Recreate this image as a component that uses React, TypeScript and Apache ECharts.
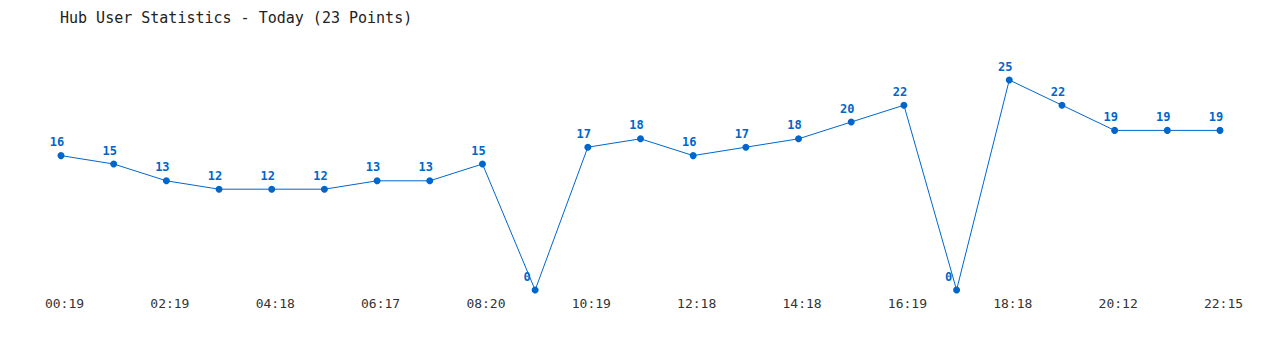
import React, { useEffect, useRef } from "react";
import * as echarts from "echarts";

const categories = [
  "00:19", "01:19", "02:19", "03:19", "04:18", "05:18", "06:17", "07:17",
  "08:20", "09:20", "10:19", "11:19", "12:18", "13:18", "14:18", "15:18",
  "16:19", "17:19", "18:18", "19:15", "20:12", "21:14", "22:15",
];
const users = [16, 15, 13, 12, 12, 12, 13, 13, 15, 0, 17, 18, 16, 17, 18, 20, 22, 0, 25, 22, 19, 19, 19];
const titleText = "Hub User Statistics - Today (23 Points)";

const BLUE = "#0066cc";
const MONO = "'DejaVu Sans Mono', 'Liberation Mono', monospace";

export default function App() {
  const ref = useRef<HTMLDivElement>(null);
  useEffect(() => {
    if (!ref.current) return;
    const chart = echarts.init(ref.current, undefined, { renderer: "svg" });
    chart.setOption({
      animation: false,
      backgroundColor: "#ffffff",
      title: {
        text: titleText,
        left: 55,
        top: 5,
        textStyle: { fontFamily: MONO, fontSize: 15, fontWeight: "normal", color: "#222" },
      },
      grid: { left: 61, right: 60, top: 80, bottom: 60, containLabel: false },
      xAxis: {
        type: "category",
        data: categories,
        boundaryGap: false,
        axisLine: { show: false },
        axisTick: { show: false },
        splitLine: { show: false },
        axisLabel: {
          interval: 1,
          margin: 7,
          padding: [0, 0, 0, 7],
          fontFamily: MONO,
          fontSize: 13,
          color: "#333",
        },
      },
      yAxis: {
        type: "value",
        min: 0,
        max: 25,
        show: false,
        splitLine: { show: false },
      },
      series: [
        {
          type: "line",
          data: users.map((v) =>
            v === 0 ? { value: v, label: { offset: [-8, 0] } } : v
          ),
          symbol: "circle",
          symbolSize: 7,
          lineStyle: { color: BLUE, width: 1 },
          itemStyle: { color: BLUE },
          label: {
            show: true,
            position: "top",
            distance: 4,
            offset: [-4, 0],
            fontFamily: MONO,
            fontSize: 12,
            fontWeight: "bold",
            color: BLUE,
          },
        },
      ],
    });
    return () => chart.dispose();
  }, []);
  return (
    <div
      ref={ref}
      style={{ position: "fixed", left: 0, top: 0, width: 1280, height: 350 }}
    />
  );
}
